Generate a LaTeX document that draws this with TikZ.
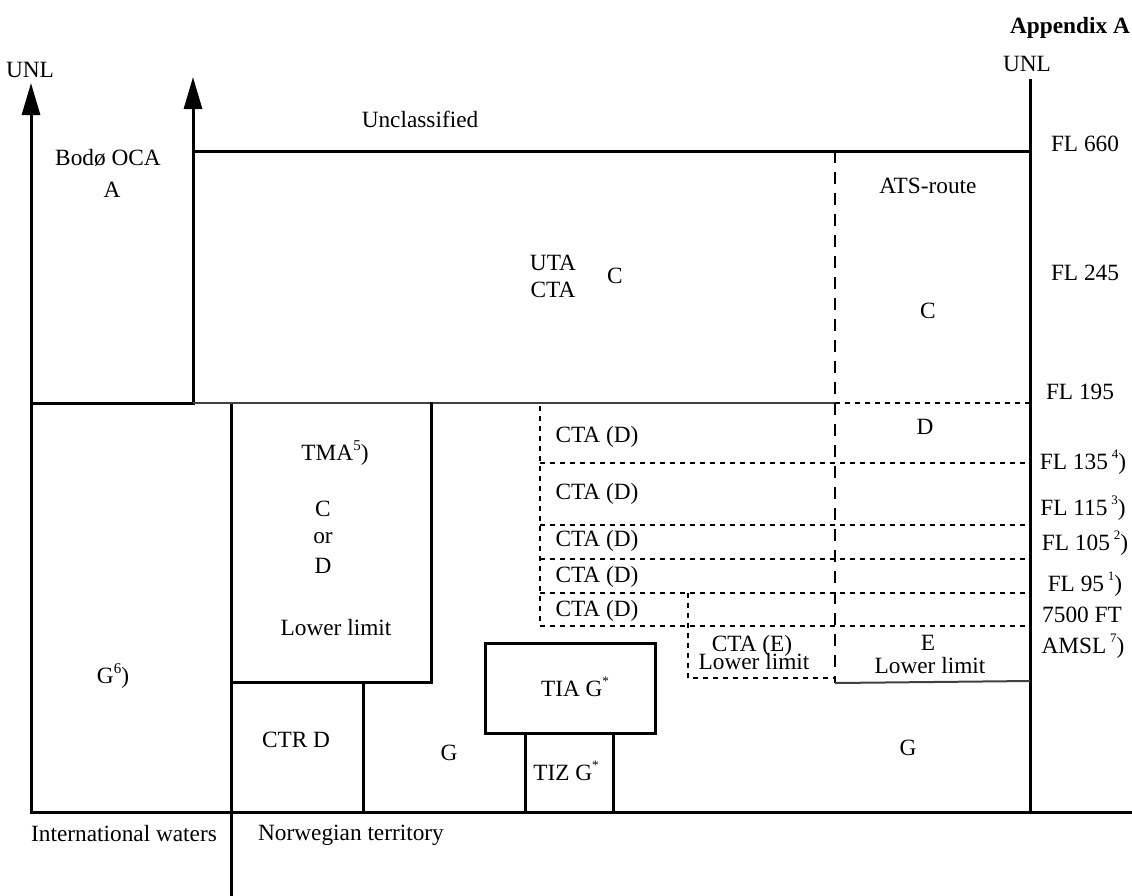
\documentclass[tikz,border=0pt]{standalone}
\usepackage{fontspec}
\setmainfont{Liberation Serif}
\usetikzlibrary{arrows.meta}
\begin{document}
\begin{tikzpicture}[x=1pt,y=-1pt,
  lbl/.style={inner sep=0pt,font=\fontsize{23.3}{27}\selectfont},
  thick line/.style={line width=3pt,line cap=rect},
  thin solid/.style={line width=2pt,black!75},
  dash line/.style={line width=1.8pt,dash pattern=on 12pt off 9pt},
  dot line/.style={line width=1.6pt,dash pattern=on 5pt off 5pt},
  arr/.style={-{Triangle[length=32pt,width=18pt]}}]
\useasboundingbox (0,0) rectangle (1132,895);
% main frame
\draw[thick line,arr] (31,812) -- (31,83);
\draw[thick line,arr] (193,403) -- (193,77);
\draw[thick line] (193,151) -- (1030,151);
\draw[thick line] (1030,80) -- (1030,812);
\draw[thick line] (31,812) -- (1132,812);
\draw[thick line] (231,403) -- (231,895);
\draw[thick line] (31,403) -- (193,403);
\draw[thin solid] (193,403) -- (835,403);
% TMA
\draw[thick line] (431,403) -- (431,682) -- (231,682);
\draw[thick line] (363,682) -- (363,812);
% TIA / TIZ
\draw[thick line] (485,643) rectangle (655,733);
\draw[thick line] (525,733) -- (525,812);
\draw[thick line] (613,733) -- (613,812);
% ATS route dashed
\draw[dash line] (835,151) -- (835,683);
\draw[thin solid] (835,683) -- (1030,681);
% dotted CTA lines
\draw[dot line] (835,403) -- (1030,403);
\draw[dot line] (540,406) -- (540,626);
\foreach \yy in {463,525,559,593,626} \draw[dot line] (540,\yy) -- (1030,\yy);
\draw[dot line] (688,593) -- (688,678) -- (835,678);
% texts
\node[lbl,font=\fontsize{23.3}{27}\selectfont\bfseries] (app) at (1070,28) {Appendix A};
\node[lbl] (unl1) at (30,70) {UNL};
\node[lbl] (unl2) at (1027,64) {UNL};
\node[lbl] (uncl) at (420,119) {Unclassified};
\node[lbl] (bodo) at (108,158) {Bodø OCA};
\node[lbl] (bodoA) at (112,190) {A};
\node[lbl] (fl660) at (1085,144) {FL 660};
\node[lbl] (ats) at (928,186) {ATS-route};
\node[lbl] (uta) at (553,263) {UTA};
\node[lbl] (cta0) at (553,290) {CTA};
\node[lbl] (c0) at (615,276) {C};
\node[lbl] (fl245) at (1085,273) {FL 245};
\node[lbl] (c1) at (928,311) {C};
\node[lbl] (fl195) at (1080,392) {FL 195};
\node[lbl] (d1) at (925,427) {D};
\node[lbl] (ctad1) at (597,437) {CTA (D)};
\node[lbl] (ctad2) at (597,494) {CTA (D)};
\node[lbl] (ctad3) at (597,541) {CTA (D)};
\node[lbl] (ctad4) at (597,577) {CTA (D)};
\node[lbl] (ctad5) at (597,611) {CTA (D)};
\node[lbl] (fl135) at (1083,462) {FL 135\,\raisebox{0.45em}{\fontsize{13}{13}\selectfont 4})};
\node[lbl] (fl115) at (1083,508) {FL 115\,\raisebox{0.45em}{\fontsize{13}{13}\selectfont 3})};
\node[lbl] (fl105) at (1085,543) {FL 105\,\raisebox{0.45em}{\fontsize{13}{13}\selectfont 2})};
\node[lbl] (fl95) at (1085,584) {FL 95\,\raisebox{0.45em}{\fontsize{13}{13}\selectfont 1})};
\node[lbl] (ft) at (1082,615) {7500 FT};
\node[lbl] (amsl) at (1083,646) {AMSL\,\raisebox{0.45em}{\fontsize{13}{13}\selectfont 7})};
\node[lbl] (tma) at (335,453) {TMA\raisebox{0.45em}{\fontsize{15}{15}\selectfont 5})};
\node[lbl] (tmac) at (323,509) {C};
\node[lbl] (tmaor) at (323,538) {or};
\node[lbl] (tmad) at (323,566) {D};
\node[lbl] (tmall) at (336,628) {Lower limit};
\node[lbl] (g6) at (113,676) {G\raisebox{0.45em}{\fontsize{15}{15}\selectfont 6})};
\node[lbl] (ctae) at (752,646) {CTA (E)};
\node[lbl] (ctaell) at (754,662) {Lower limit};
\node[lbl] (e) at (928,643) {E};
\node[lbl] (ell) at (930,666) {Lower limit};
\node[lbl] (tia) at (575,687) {TIA G\raisebox{0.45em}{\fontsize{13}{13}\selectfont *}};
\node[lbl] (ctr) at (296,740) {CTR D};
\node[lbl] (g1) at (449,753) {G};
\node[lbl] (tiz) at (566,771) {TIZ G\raisebox{0.45em}{\fontsize{13}{13}\selectfont *}};
\node[lbl] (g2) at (908,748) {G};
\node[lbl] (intw) at (124,834) {International waters};
\node[lbl] (norw) at (351,835) {Norwegian territory};
\end{tikzpicture}
\end{document}
